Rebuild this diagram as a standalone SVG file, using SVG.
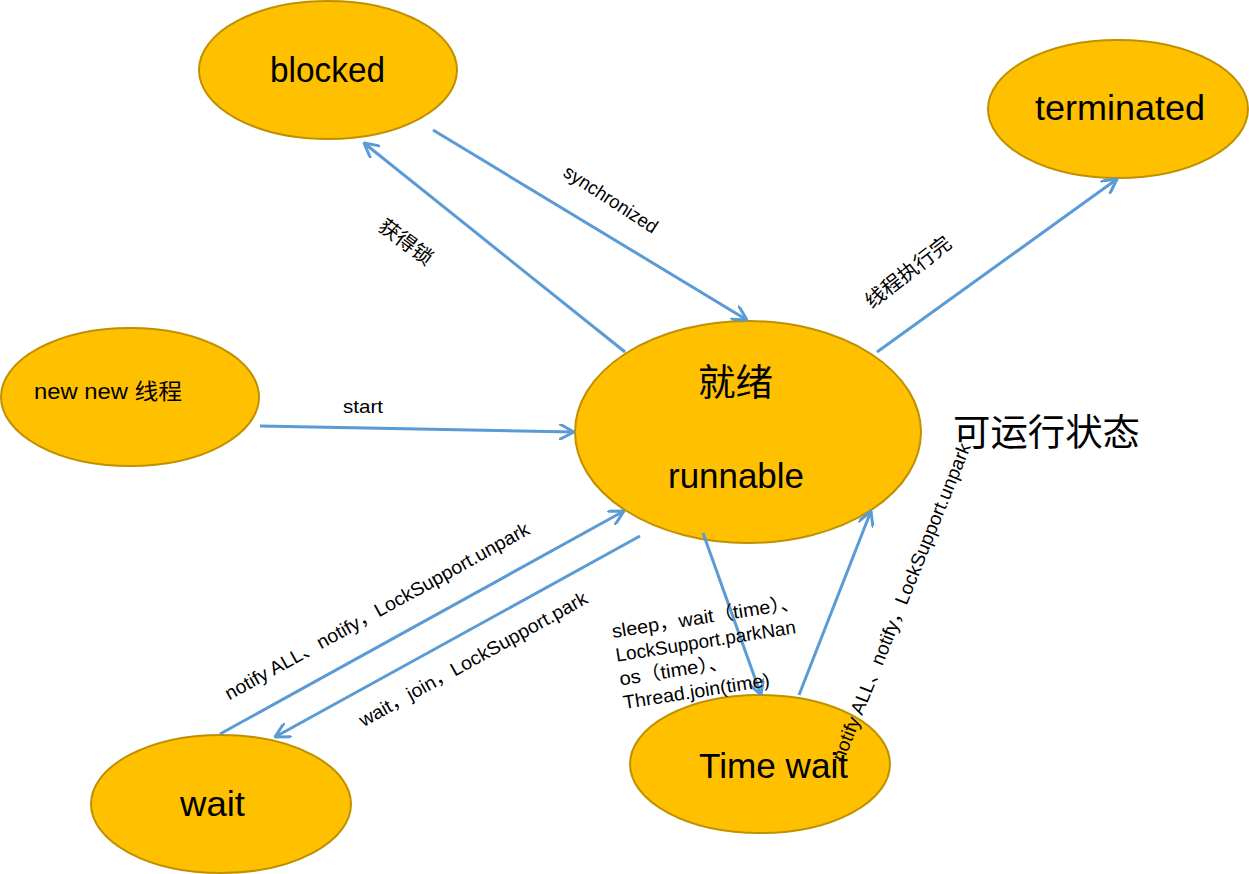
<svg xmlns="http://www.w3.org/2000/svg" width="1249" height="874" viewBox="0 0 1249 874">
<style>
.node{fill:#FFC000;stroke:#BF9000;stroke-width:2}
.big{font-family:"Liberation Sans","Noto Sans CJK SC",sans-serif;font-size:35px;fill:#000}
.cjk{font-family:"Noto Sans CJK SC","Liberation Sans",sans-serif;fill:#000}
.lbl{font-family:"Liberation Sans","Noto Sans CJK SC",sans-serif;font-size:19px;fill:#000}
.edge{stroke:#5B9BD5;stroke-width:3;fill:none;marker-end:url(#arr)}
</style>
<defs>
<marker id="arr" viewBox="0 0 16 16" refX="15" refY="8" markerWidth="16" markerHeight="16" markerUnits="userSpaceOnUse" orient="auto">
<path d="M1,0.5 L15,8 L1,15.5" fill="none" stroke="#5B9BD5" stroke-width="3" stroke-linecap="round" stroke-linejoin="round"/>
</marker>
</defs>
<rect width="1249" height="874" fill="#fff"/>
<g id="blocked"><ellipse class="node" cx="328" cy="70" rx="129" ry="69"/><text class="big" x="270" y="82" textLength="115" lengthAdjust="spacingAndGlyphs">blocked</text></g>
<g id="terminated"><ellipse class="node" cx="1118" cy="109" rx="130" ry="69"/><text class="big" x="1035" y="120" textLength="170" lengthAdjust="spacingAndGlyphs">terminated</text></g>
<g id="new"><ellipse class="node" cx="130" cy="397" rx="129" ry="69"/><text class="lbl" x="34" y="399" style="font-size:22px" textLength="148" lengthAdjust="spacingAndGlyphs">new new 线程</text></g>
<g id="runnable"><ellipse class="node" cx="748" cy="432" rx="173" ry="111"/><text class="cjk" x="698" y="396" style="font-size:37px" textLength="75" lengthAdjust="spacingAndGlyphs">就绪</text><text class="big" x="668" y="488" textLength="136" lengthAdjust="spacingAndGlyphs">runnable</text></g>
<g id="wait"><ellipse class="node" cx="221" cy="804" rx="130" ry="69"/><text class="big" x="180" y="816" textLength="65" lengthAdjust="spacingAndGlyphs">wait</text></g>
<g id="timewait"><ellipse class="node" cx="760" cy="764" rx="130" ry="69"/><text class="big" x="699" y="778" textLength="149" lengthAdjust="spacingAndGlyphs">Time wait</text></g>
<g id="runnable-state"><text class="cjk" x="953" y="446" style="font-size:37px" textLength="187" lengthAdjust="spacingAndGlyphs">可运行状态</text></g>
<g id="connectors">
<path class="edge" d="M625,352 L364,143"/>
<path class="edge" d="M433,130 L747,320"/>
<path class="edge" d="M877,352 L1117,179"/>
<path class="edge" d="M260,426 L574,432"/>
<path class="edge" d="M220,734 L624,511"/>
<path class="edge" d="M640,536 L275,737"/>
<path class="edge" d="M703,533 L761,695"/>
<path class="edge" d="M799,695 L871,511"/>
<text class="lbl" x="343" y="413" textLength="40" lengthAdjust="spacingAndGlyphs">start</text>
<text class="lbl" transform="translate(611,199) rotate(33)" text-anchor="middle" dy="0.35em" textLength="108" lengthAdjust="spacingAndGlyphs">synchronized</text>
<text class="cjk" style="font-size:20px" transform="translate(406,242) rotate(37)" text-anchor="middle" dy="0.35em" textLength="62" lengthAdjust="spacingAndGlyphs">获得锁</text>
<text class="cjk" style="font-size:20px" transform="translate(908,272) rotate(-38)" text-anchor="middle" dy="0.35em" textLength="103" lengthAdjust="spacingAndGlyphs">线程执行完</text>
<text class="lbl" transform="translate(377,611) rotate(-29)" text-anchor="middle" dy="0.35em" textLength="345" lengthAdjust="spacingAndGlyphs">notify ALL、notify，LockSupport.unpark</text>
<text class="lbl" transform="translate(473,659) rotate(-29)" text-anchor="middle" dy="0.35em" textLength="258" lengthAdjust="spacingAndGlyphs">wait，join，LockSupport.park</text>
<text class="lbl" transform="translate(901,602) rotate(-68)" text-anchor="middle" dy="0.35em" textLength="341" lengthAdjust="spacingAndGlyphs">notify ALL、notify，LockSupport.unpark</text>
<g transform="translate(613,638) rotate(-9)">
<text class="lbl" x="0" y="0" textLength="190" lengthAdjust="spacingAndGlyphs">sleep，wait（time）、</text>
<text class="lbl" x="0" y="24" textLength="182" lengthAdjust="spacingAndGlyphs">LockSupport.parkNan</text>
<text class="lbl" x="0" y="48" textLength="110" lengthAdjust="spacingAndGlyphs">os（time）、</text>
<text class="lbl" x="0" y="72" textLength="148" lengthAdjust="spacingAndGlyphs">Thread.join(time)</text>
</g>
</g>
</svg>
